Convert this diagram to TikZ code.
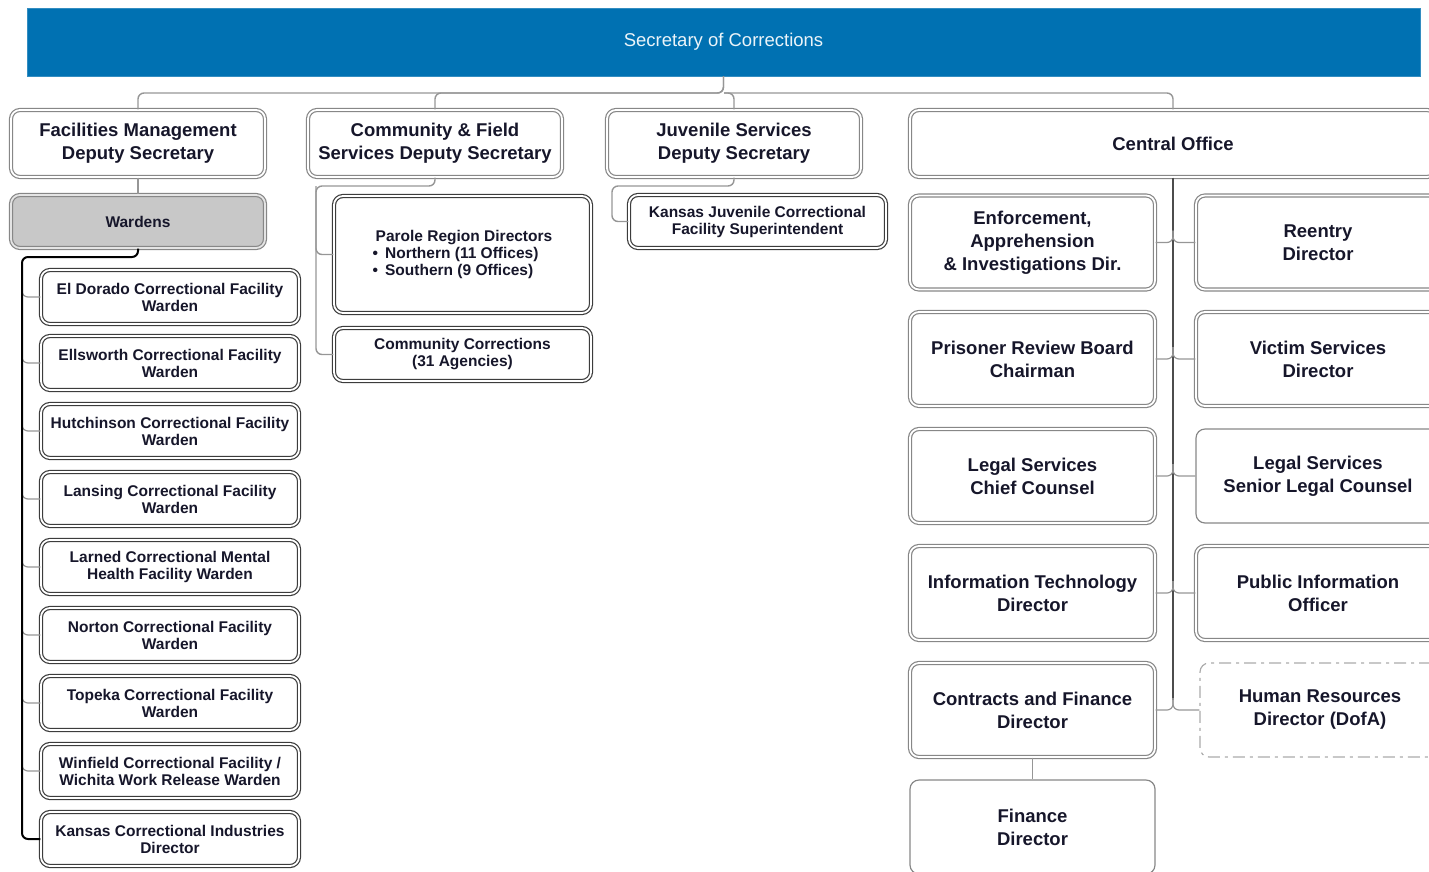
\documentclass[tikz,border=0pt]{standalone}
\usepackage{fontspec}
\setmainfont{Liberation Sans}
\usepackage{tikz}
\definecolor{Secretary}{RGB}{0, 113, 178}
\definecolor{Frame}{RGB}{135, 135, 135}
\definecolor{DarkFrame}{RGB}{60, 60, 60}
\definecolor{Ink}{RGB}{22, 22, 42}
\definecolor{Shade}{RGB}{200, 200, 200}
\definecolor{Link}{RGB}{150, 150, 150}

\tikzset{
    unitbox/.style={draw=Frame, double=white, double distance=1.8pt, line width=1.2pt,
        rounded corners=9pt, align=center, text=Ink, inner sep=2pt,
        font=\bfseries\fontsize{18.5}{23}\selectfont},
    smallbox/.style={unitbox, draw=DarkFrame, font=\bfseries\fontsize{15.5}{17}\selectfont},
    plainbox/.style={draw=Frame, line width=1.2pt, rounded corners=9pt, align=center,
        text=Ink, inner sep=2pt, font=\bfseries\fontsize{18.5}{23}\selectfont},
    link/.style={draw=Link, line width=1.4pt, rounded corners=6pt},
    spine/.style={draw=black, line width=2pt, rounded corners=6pt},
    cospine/.style={draw=black!70, line width=1.8pt},
}

\begin{document}
\begin{tikzpicture}[x=1pt, y=-1pt]
    %%Background
    \useasboundingbox (0,0) rectangle (1429,871);

    %% Secretary
    \node[fill=Secretary, draw=Secretary!80!white, minimum width=1393, minimum height=68,
        text=white!92!Secretary, font=\fontsize{18.5}{23}\selectfont] (sec) at (723.5,42) {Secretary of Corrections};

    %% Deputy secretaries
    \node[unitbox, minimum width=254, minimum height=67] (fm) at (138,143.5) {Facilities Management\\Deputy Secretary};
    \node[unitbox, minimum width=254, minimum height=67] (cfs) at (435,143.5) {Community \& Field\\Services Deputy Secretary};
    \node[unitbox, minimum width=254, minimum height=67] (js) at (734,143.5) {Juvenile Services\\Deputy Secretary};
    \node[unitbox, minimum width=526, minimum height=67] (co) at (1173,143.5) {Central Office};

    \draw[link] (sec.south) |- (138,93) -- (fm.north);
    \draw[link] (sec.south) |- (435,93) -- (cfs.north);
    \draw[link] (724,93) -| (js.north);
    \draw[link] (724,93) -| (co.north);

    %% Facilities
    \node[unitbox, fill=Shade, double=Shade!50!white, minimum width=254, minimum height=53,
        font=\bfseries\fontsize{15.5}{17}\selectfont] (wardens) at (138,221.5) {Wardens};
    \draw[link] (fm.south) -- (wardens.north);

    \foreach \i/\y/\txt in {1/297/{El Dorado Correctional Facility\\Warden},
        2/363/{Ellsworth Correctional Facility\\Warden},
        3/431/{Hutchinson Correctional Facility\\Warden},
        4/499/{Lansing Correctional Facility\\Warden},
        5/567/{Larned Correctional Mental\\Health Facility Warden},
        6/635/{Norton Correctional Facility\\Warden},
        7/703/{Topeka Correctional Facility\\Warden},
        8/771/{Winfield Correctional Facility /\\Wichita Work Release Warden},
        9/839/{Kansas Correctional Industries\\Director}}
    {
        \node[smallbox, minimum width=258, minimum height=54] (w\i) at (170,\y) {\txt};
    }
    \foreach \i/\y in {1/297,2/363,3/431,4/499,5/567,6/635,7/703,8/771}
        \draw[link, line width=1.2pt] (22,\y-12) |- (w\i.west);
    \draw[spine] (wardens.south) |- (22,257) |- (w9.west);

    %% Community & Field
    \node[smallbox, minimum width=257, minimum height=117, align=left] (parole) at (462.5,254.5)
        {\hspace{3pt}Parole Region Directors\\
         \textbullet\hspace{7pt}Northern (11 Offices)\\
         \textbullet\hspace{7pt}Southern (9 Offices)};
    \node[smallbox, minimum width=257, minimum height=53] (commcorr) at (462.5,354.5) {Community Corrections\\(31 Agencies)};
    \draw[link] (cfs.south) |- (316,186) |- (parole.west);
    \draw[link] (316,186) |- (commcorr.west);

    %% Juvenile
    \node[smallbox, minimum width=257, minimum height=53] (kjcf) at (757.5,221.5) {Kansas Juvenile Correctional\\Facility Superintendent};
    \draw[link] (js.south) |- (612,186) |- (kjcf.west);

    %% Central Office
    \node[unitbox, minimum width=245, minimum height=94] (enf) at (1032.5,242.5) {Enforcement,\\Apprehension\\\& Investigations Dir.};
    \node[unitbox, minimum width=245, minimum height=94] (prb) at (1032.5,359) {Prisoner Review Board\\Chairman};
    \node[unitbox, minimum width=245, minimum height=94] (legal) at (1032.5,476) {Legal Services\\Chief Counsel};
    \node[unitbox, minimum width=245, minimum height=94] (it) at (1032.5,593) {Information Technology\\Director};
    \node[unitbox, minimum width=245, minimum height=94] (contracts) at (1032.5,710) {Contracts and Finance\\Director};
    \node[plainbox, minimum width=245, minimum height=94] (finance) at (1032.5,827) {Finance\\Director};

    \node[unitbox, minimum width=244, minimum height=94] (reentry) at (1318,242.5) {Reentry\\Director};
    \node[unitbox, minimum width=244, minimum height=94] (victim) at (1318,359) {Victim Services\\Director};
    \node[plainbox, minimum width=244, minimum height=94] (senior) at (1318,476) {Legal Services\\Senior Legal Counsel};
    \node[unitbox, minimum width=244, minimum height=94] (pio) at (1318,593) {Public Information\\Officer};
    \node[plainbox, draw=Link!80!white, dash pattern=on 12pt off 5pt on 3pt off 5pt,
        minimum width=240, minimum height=94] (hr) at (1320,710) {Human Resources\\Director (DofA)};

    \draw[cospine] (co.south) -- (1173,700);
    \foreach \l/\r/\y in {enf/reentry/242.5, prb/victim/359, legal/senior/476, it/pio/593, contracts/hr/710}
    {
        \draw[link, line width=1.2pt] (1173,\y-12) |- (\l.east);
        \draw[link, line width=1.2pt] (1173,\y-12) |- (\r.west);
    }
    \draw[link] (contracts.south) -- (finance.north);

\end{tikzpicture}
\end{document}
